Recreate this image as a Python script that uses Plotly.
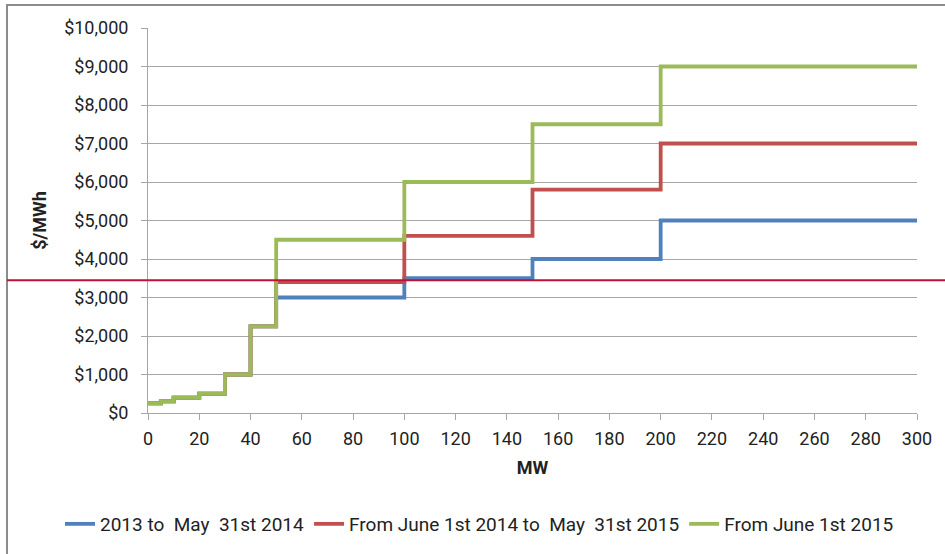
import plotly.graph_objects as go

mw = [0, 5, 10, 20, 30, 40, 50, 100, 150, 200, 300]
series_2013 = [250, 300, 400, 500, 1000, 2250, 3000, 3500, 4000, 5000, 5000]
series_2014 = [250, 300, 400, 500, 1000, 2250, 3400, 4600, 5800, 7000, 7000]
series_2015 = [250, 300, 400, 500, 1000, 2250, 4500, 6000, 7500, 9000, 9000]
names = ["2013 to  May  31st 2014", "From June 1st 2014 to  May  31st 2015", "From June 1st 2015"]
colors = ["#4f81bd", "#c0504d", "#9bbb59"]
ref_value = 3445
y_ticks = list(range(0, 10001, 1000))
y_tick_labels = ["$" + format(v, ",") for v in y_ticks]
x_ticks = list(range(0, 301, 20))

FONT = "Roboto, sans-serif"

fig = go.Figure()
for vals, name, col in zip([series_2013, series_2014, series_2015], names, colors):
    fig.add_trace(go.Scatter(x=mw, y=vals, mode="lines", name=name,
                             line=dict(color=col, width=3.8, shape="hv")))

W, H = 945, 554
L, R, T, B = 148, 28, 28, 140
pw, ph = W - L - R, H - T - B

def px_to_paper_x(px):
    return (px - L) / pw

def py_to_paper_y(py):
    return (H - B - py) / ph

fig.add_shape(type="line", xref="paper", yref="y",
              x0=px_to_paper_x(7), x1=px_to_paper_x(960), y0=ref_value, y1=ref_value,
              line=dict(color="#c0103a", width=2), layer="above")
fig.add_shape(type="rect", xref="paper", yref="paper",
              x0=px_to_paper_x(7), x1=px_to_paper_x(990), y0=py_to_paper_y(5), y1=py_to_paper_y(600),
              line=dict(color="#8c8c8c", width=2), layer="below")

fig.update_layout(
    width=W, height=H,
    margin=dict(l=L, r=R, t=T, b=B),
    paper_bgcolor="white", plot_bgcolor="white",
    font=dict(family=FONT, size=18, color="#222222"),
    xaxis=dict(range=[0, 300], tickvals=x_ticks, showgrid=False, zeroline=False,
               showline=True, linecolor="#a6a6a6", linewidth=1,
               ticks="outside", ticklen=6, tickcolor="#a6a6a6", ticklabelstandoff=3,
               tickfont=dict(size=18, family=FONT),
               title=dict(text="<b>MW</b>", font=dict(size=18, family=FONT), standoff=13)),
    yaxis=dict(range=[0, 10000], tickvals=y_ticks, ticktext=y_tick_labels,
               showgrid=True, gridcolor="#a6a6a6", gridwidth=1, zeroline=False,
               showline=True, linecolor="#a6a6a6", linewidth=1,
               ticks="outside", ticklen=6, tickcolor="#a6a6a6", ticklabelstandoff=9,
               tickfont=dict(size=18, family=FONT),
               title=dict(text="<b>$/MWh</b>", font=dict(size=18, family=FONT), standoff=12)),
    legend=dict(orientation="h", xref="paper", yref="paper",
                x=px_to_paper_x(60), y=py_to_paper_y(524), xanchor="left", yanchor="middle",
                font=dict(size=19, family=FONT), itemwidth=30, tracegroupgap=0),
    showlegend=True,
)

fig.write_html("out.html", config={"displayModeBar": False},
               post_script="document.body.style.margin='0px';")
